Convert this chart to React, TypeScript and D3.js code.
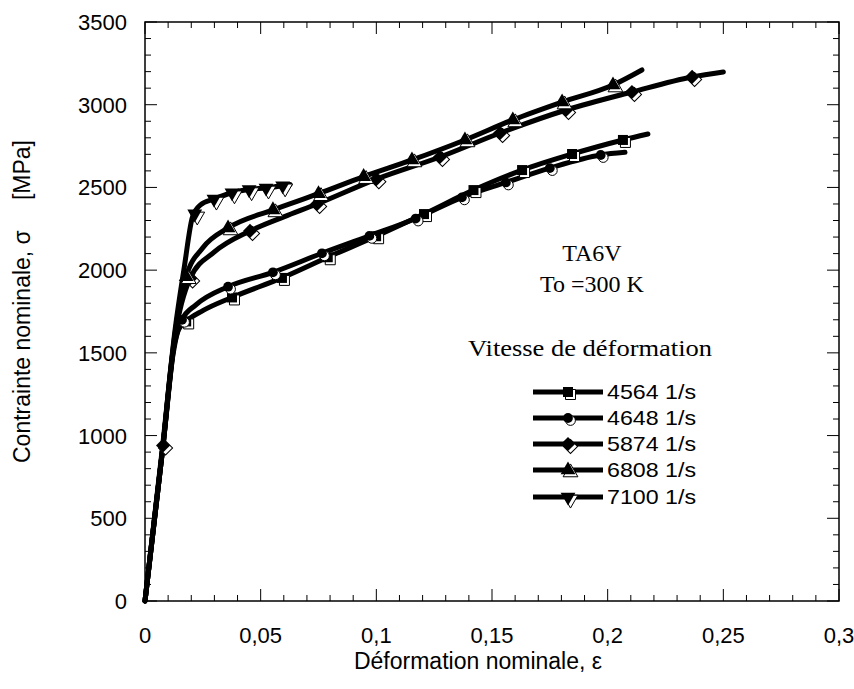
import React from "react";
import * as d3 from "d3";

// ---- data (strain ε, nominal stress σ in MPa) ----
const curve4564: [number, number][] = [
  [0, 0], [0.0078, 940], [0.012, 1480], [0.0145, 1640], [0.0178, 1690], [0.025, 1755],
  [0.0376, 1835], [0.0592, 1953], [0.079, 2078], [0.0999, 2205], [0.1206, 2339],
  [0.142, 2484], [0.163, 2605], [0.1846, 2702], [0.2066, 2787], [0.2174, 2823],
];
const markers4564: [number, number][] = [
  [0.0178, 1690], [0.0376, 1835], [0.0592, 1953], [0.079, 2078], [0.0999, 2205],
  [0.1206, 2339], [0.142, 2484], [0.163, 2605], [0.1846, 2702], [0.2066, 2787],
];

const curve4648: [number, number][] = [
  [0, 0], [0.0078, 940], [0.012, 1500], [0.016, 1700], [0.022, 1790], [0.0359, 1900],
  [0.0553, 1987], [0.0765, 2102], [0.097, 2207], [0.117, 2312], [0.137, 2440],
  [0.156, 2530], [0.175, 2617], [0.197, 2696], [0.2075, 2712],
];
const markers4648: [number, number][] = [
  [0.016, 1700], [0.0359, 1900], [0.0553, 1987], [0.0765, 2102], [0.097, 2207],
  [0.117, 2312], [0.137, 2440], [0.156, 2530], [0.175, 2617], [0.197, 2696],
];

const curve5874: [number, number][] = [
  [0, 0], [0.0078, 940], [0.013, 1600], [0.0195, 1950], [0.03, 2110], [0.0454, 2237],
  [0.06, 2322], [0.0744, 2400], [0.1, 2550], [0.1275, 2684], [0.1535, 2829],
  [0.182, 2968], [0.2105, 3077], [0.2365, 3168], [0.25, 3198],
];
const markers5874: [number, number][] = [
  [0.0078, 940], [0.0195, 1950], [0.0454, 2237], [0.0744, 2400], [0.1, 2550],
  [0.1275, 2684], [0.1535, 2829], [0.182, 2968], [0.2105, 3077], [0.2365, 3168],
];

const curve6808: [number, number][] = [
  [0, 0], [0.0078, 940], [0.013, 1620], [0.0178, 1960], [0.025, 2135], [0.0359, 2255],
  [0.0553, 2364], [0.075, 2462], [0.0945, 2565], [0.1154, 2666], [0.1383, 2787],
  [0.159, 2908], [0.1803, 3016], [0.2023, 3119], [0.2148, 3210],
];
const markers6808: [number, number][] = [
  [0.0178, 1960], [0.0359, 2255], [0.0553, 2364], [0.075, 2462], [0.0945, 2565],
  [0.1154, 2666], [0.1383, 2787], [0.159, 2908], [0.1803, 3016], [0.2023, 3119],
];

const curve7100: [number, number][] = [
  [0, 0], [0.0078, 960], [0.013, 1640], [0.017, 2020], [0.0205, 2320], [0.024, 2395],
  [0.0298, 2430], [0.0376, 2468], [0.045, 2487], [0.0523, 2497], [0.0627, 2518],
];
const markers7100: [number, number][] = [
  [0.0215, 2340], [0.0298, 2430], [0.0376, 2468], [0.045, 2487], [0.0523, 2497], [0.0595, 2510],
];

const seriesNames = ["4564 1/s", "4648 1/s", "5874 1/s", "6808 1/s", "7100 1/s"];
const seriesShapes = ["square", "circle", "diamond", "triangle", "triangleDown"];
const seriesCurves = [curve4564, curve4648, curve5874, curve6808, curve7100];
const seriesMarkers = [markers4564, markers4648, markers5874, markers6808, markers7100];

const xMajorTicks = [0, 0.05, 0.1, 0.15, 0.2, 0.25, 0.3];
const xTickLabels = ["0", "0,05", "0,1", "0,15", "0,2", "0,25", "0,3"];
const yMajorTicks = [0, 500, 1000, 1500, 2000, 2500, 3000, 3500];
const yTickLabels = ["0", "500", "1000", "1500", "2000", "2500", "3000", "3500"];

const W = 854;
const H = 689;
const L = 145, R = 839, T = 22, B = 601;

const x = d3.scaleLinear().domain([0, 0.3]).range([L, R]);
const y = d3.scaleLinear().domain([0, 3500]).range([B, T]);

const line = d3
  .line<[number, number]>()
  .x((d) => x(d[0]))
  .y((d) => y(d[1]))
  .curve(d3.curveMonotoneX);

function symbolPath(shape: string): string {
  const gen = d3.symbol();
  switch (shape) {
    case "square":
      return gen.type(d3.symbolSquare).size(100)() as string;
    case "circle":
      return gen.type(d3.symbolCircle).size(75)() as string;
    case "diamond":
      return gen.type(d3.symbolSquare).size(100)() as string;
    case "triangle":
    case "triangleDown":
      return gen.type(d3.symbolTriangle).size(95)() as string;
  }
  return "";
}

function rot(shape: string) {
  if (shape === "diamond") return 45;
  if (shape === "triangleDown") return 180;
  return 0;
}

function Marker({ cx, cy, shape }: { cx: number; cy: number; shape: string }) {
  const p = symbolPath(shape);
  const r = rot(shape);
  return (
    <g>
      <path
        d={p}
        transform={`translate(${cx + 2.5},${cy + 2.5}) rotate(${r})`}
        fill="#fff"
        stroke="#000"
        strokeWidth={1}
      />
      <path d={p} transform={`translate(${cx},${cy}) rotate(${r})`} fill="#000" />
    </g>
  );
}

export default function App() {
  const xMinor = d3.range(0, 0.3001, 0.01);
  const yMinor = d3.range(0, 3501, 100);
  const font = "Arial, 'Liberation Sans', sans-serif";
  const serif = "'Times New Roman', 'Liberation Serif', serif";
  const legendY = [392, 418, 444, 470, 497];
  return (
    <svg width={W} height={H} style={{ display: "block", position: "absolute", left: 0, top: 0 }}>
      <rect x={0} y={0} width={W} height={H} fill="#fff" />
      {/* ticks */}
      <g stroke="#000" strokeWidth={1}>
        {xMinor.map((v, i) => {
          const major = i % 5 === 0;
          const len = major ? 12 : 6;
          return (
            <g key={"xt" + i}>
              <line x1={x(v)} x2={x(v)} y1={B} y2={B - len} />
              <line x1={x(v)} x2={x(v)} y1={T} y2={T + len} />
            </g>
          );
        })}
        {yMinor.map((v, i) => {
          const major = i % 5 === 0;
          const len = major ? 12 : 6;
          return (
            <g key={"yt" + i}>
              <line x1={L} x2={L + len} y1={y(v)} y2={y(v)} />
              <line x1={R} x2={R - len} y1={y(v)} y2={y(v)} />
            </g>
          );
        })}
      </g>
      <rect x={L} y={T} width={R - L} height={B - T} fill="none" stroke="#000" strokeWidth={1.5} />
      {/* tick labels */}
      <g fontFamily={font} fontSize={22} fill="#000">
        {xMajorTicks.map((v, i) => (
          <text key={"xl" + i} x={x(v)} y={643} textAnchor="middle">
            {xTickLabels[i]}
          </text>
        ))}
        {yMajorTicks.map((v, i) => (
          <text key={"yl" + i} x={127} y={y(v) + 8} textAnchor="end">
            {yTickLabels[i]}
          </text>
        ))}
      </g>
      {/* axis titles */}
      <text x={478} y={669} textAnchor="middle" fontFamily={font} fontSize={23}>
        Déformation nominale, ε
      </text>
      <g transform="translate(30,0) rotate(-90)">
        <text x={-463} y={0} fontFamily={font} fontSize={23}>
          Contrainte nominale, σ
        </text>
        <text x={-140} y={0} fontFamily={font} fontSize={23} textAnchor="end">
          [MPa]
        </text>
      </g>
      {/* curves */}
      <g>
        {seriesCurves.map((c, i) => (
          <path
            key={"c" + i}
            d={line(c) as string}
            fill="none"
            stroke="#000"
            strokeWidth={5}
            strokeLinejoin="round"
            strokeLinecap="round"
          />
        ))}
        {seriesMarkers.map((ms, i) =>
          ms.map((m, j) => <Marker key={"m" + i + "_" + j} cx={x(m[0])} cy={y(m[1])} shape={seriesShapes[i]} />)
        )}
      </g>
      {/* annotations */}
      <g fontFamily={serif} fontSize={24} fill="#000" textAnchor="middle">
        <text x={592} y={261}>TA6V</text>
        <text x={592} y={292}>To =300 K</text>
        <text x={590} y={356} textLength={244} lengthAdjust="spacingAndGlyphs">Vitesse de déformation</text>
      </g>
      {/* legend */}
      {seriesNames.map((n, i) => (
        <g key={"lg" + i}>
          <line x1={533} x2={603} y1={legendY[i]} y2={legendY[i]} stroke="#000" strokeWidth={5} />
          <Marker cx={568} cy={legendY[i]} shape={seriesShapes[i]} />
          <text x={607} y={legendY[i] + 7} fontFamily={font} fontSize={21} textLength={89} lengthAdjust="spacingAndGlyphs">
            {n}
          </text>
        </g>
      ))}
    </svg>
  );
}
